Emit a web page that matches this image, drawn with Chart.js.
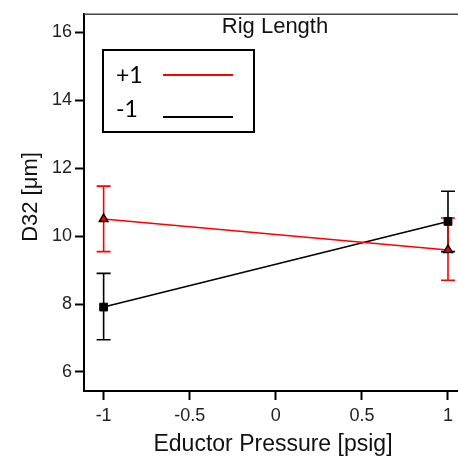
<!DOCTYPE html>
<html lang="en">
<head>
<meta charset="UTF-8">
<title>Rig Length</title>
<script src="https://cdn.jsdelivr.net/npm/chart.js"></script>
<style>
  html, body { margin: 0; padding: 0; background: #fff; }
  #wrap { width: 458px; height: 459px; }
</style>
</head>
<body>
<div id="wrap"><canvas id="chart"></canvas></div>
<script>
// data
const xValues = [-1, 1];
const plusMean = [10.50, 9.59];
const plusHigh = [11.47, 10.53];
const plusLow = [9.54, 8.70];
const minusMean = [7.91, 10.43];
const minusHigh = [8.90, 11.32];
const minusLow = [6.95, 9.54];

const xTicks = [-1, -0.5, 0, 0.5, 1];
const xTickLabels = ['-1', '-0.5', '0', '0.5', '1'];
const yTicks = [6, 8, 10, 12, 14, 16];
const yTickLabels = ['6', '8', '10', '12', '14', '16'];

const seriesNames = ['+1', '-1'];
const seriesColors = ['#ff0000', '#000000'];

const toPoints = (ys) => xValues.map((x, i) => ({ x: x, y: ys[i] }));

// error bars, title, axis titles, legend box
const extras = {
  id: 'extras',
  beforeDatasetsDraw(chart) {
    const ctx = chart.ctx;
    const xs = chart.scales.x, ys = chart.scales.y;
    const bars = [
      { lo: minusLow, hi: minusHigh, color: seriesColors[1] },
      { lo: plusLow, hi: plusHigh, color: seriesColors[0] }
    ];
    ctx.save();
    ctx.lineWidth = 1.6;
    bars.forEach(b => {
      ctx.strokeStyle = b.color;
      xValues.forEach((x, i) => {
        const px = xs.getPixelForValue(x);
        const top = ys.getPixelForValue(b.hi[i]);
        const bot = ys.getPixelForValue(b.lo[i]);
        ctx.beginPath();
        ctx.moveTo(px, top); ctx.lineTo(px, bot);
        ctx.moveTo(px - 7, top); ctx.lineTo(px + 7, top);
        ctx.moveTo(px - 7, bot); ctx.lineTo(px + 7, bot);
        ctx.stroke();
      });
    });
    ctx.restore();
  },
  afterDraw(chart) {
    const ctx = chart.ctx;
    const area = chart.chartArea;
    ctx.save();
    // top frame line
    ctx.strokeStyle = '#444';
    ctx.lineWidth = 1.5;
    ctx.beginPath();
    ctx.moveTo(area.left, area.top + 0.5);
    ctx.lineTo(chart.width, area.top + 0.5);
    ctx.stroke();

    ctx.fillStyle = '#111';
    ctx.textAlign = 'center';
    ctx.textBaseline = 'alphabetic';
    ctx.font = '22px "Liberation Sans", Arial, sans-serif';
    ctx.fillText('Rig Length', 275, 33);
    ctx.font = '23px "Liberation Sans", Arial, sans-serif';
    ctx.fillText('Eductor Pressure [psig]', 273, 451);

    ctx.save();
    ctx.translate(37, 197);
    ctx.rotate(-Math.PI / 2);
    ctx.font = '22px "Liberation Sans", Arial, sans-serif';
    ctx.fillText('D32 [\u03bcm]', 0, 0);
    ctx.restore();

    // legend
    ctx.strokeStyle = '#000';
    ctx.lineWidth = 2;
    ctx.strokeRect(103, 50, 151, 82);
    ctx.font = '23px Lato, "Open Sans", sans-serif';
    ctx.textAlign = 'left';
    ctx.fillStyle = '#000';
    const rows = [{ t: 83, l: 75 }, { t: 117, l: 117 }];
    rows.forEach((r, i) => {
      ctx.fillText(seriesNames[i], 116, r.t);
      ctx.strokeStyle = seriesColors[i];
      ctx.lineWidth = 2;
      ctx.beginPath();
      ctx.moveTo(163, r.l);
      ctx.lineTo(233, r.l);
      ctx.stroke();
    });
    ctx.restore();
  }
};

const tickFont = { family: '"Liberation Sans", Arial, sans-serif', size: 18 };

new Chart(document.getElementById('chart'), {
  type: 'scatter',
  data: {
    datasets: [
      {
        label: seriesNames[0],
        data: toPoints(plusMean),
        showLine: true,
        borderColor: seriesColors[0],
        borderWidth: 1.6,
        pointStyle: 'triangle',
        pointRadius: 5,
        pointBackgroundColor: seriesColors[0],
        pointBorderColor: '#000',
        pointBorderWidth: 1.5
      },
      {
        label: seriesNames[1],
        data: toPoints(minusMean),
        showLine: true,
        borderColor: seriesColors[1],
        borderWidth: 1.6,
        pointStyle: 'rect',
        pointRadius: 5.5,
        pointBackgroundColor: '#000',
        pointBorderColor: '#000',
        pointBorderWidth: 1
      }
    ]
  },
  options: {
    responsive: true,
    maintainAspectRatio: false,
    animation: false,
    layout: { autoPadding: false, padding: { top: 7, left: 0, right: 0, bottom: 0 } },
    plugins: { legend: { display: false }, tooltip: { enabled: false } },
    scales: {
      x: {
        type: 'linear',
        min: -1.114,
        max: 1.058,
        afterBuildTicks: (s) => { s.ticks = xTicks.map(v => ({ value: v })); },
        afterFit: (s) => { s.height = 68; },
        ticks: {
          font: tickFont,
          color: '#222',
          padding: 5,
          maxRotation: 0,
          callback: (v) => xTickLabels[xTicks.indexOf(v)]
        },
        grid: { drawOnChartArea: false, drawTicks: true, tickLength: 9, tickWidth: 2, tickColor: '#000' },
        border: { display: true, color: '#000', width: 2 }
      },
      y: {
        type: 'linear',
        min: 5.44,
        max: 16.54,
        afterBuildTicks: (s) => { s.ticks = yTicks.map(v => ({ value: v })); },
        afterFit: (s) => { s.width = 84; },
        ticks: {
          font: tickFont,
          color: '#222',
          padding: 3,
          callback: (v) => yTickLabels[yTicks.indexOf(v)]
        },
        grid: { drawOnChartArea: false, drawTicks: true, tickLength: 9, tickWidth: 2, tickColor: '#000' },
        border: { display: true, color: '#000', width: 2 }
      }
    }
  },
  plugins: [extras]
});
</script>
</body>
</html>
